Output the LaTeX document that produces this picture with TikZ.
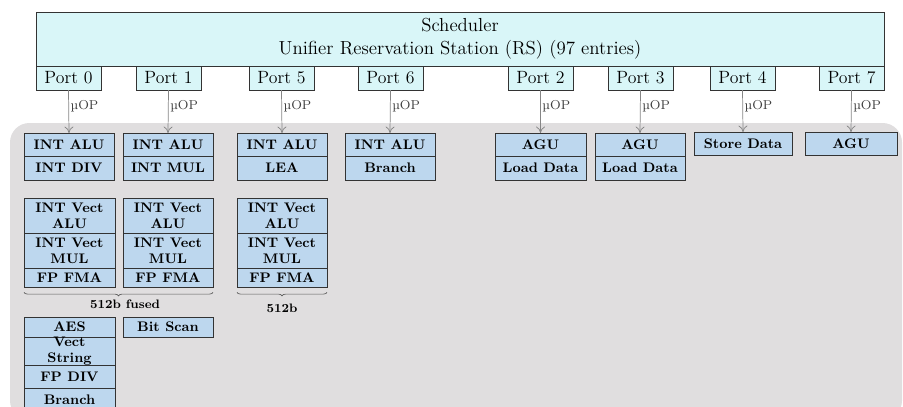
\documentclass[tikz,border=0pt]{standalone}
\usetikzlibrary{decorations.pathreplacing,arrows.meta}
\definecolor{schedfill}{HTML}{D9F6F8}
\definecolor{unitfill}{HTML}{BDD7EE}
\definecolor{bggray}{HTML}{E0DEDF}
\definecolor{edgecol}{HTML}{333333}
\definecolor{arrcol}{HTML}{858585}
\newcommand{\mybox}[7][]{\node[unitbox,#1,minimum width={(#5-#3)*0.62pt},minimum height={(#6-#4)*0.62pt}] (#2) at ({(#3+#5)/2},{(#4+#6)/2}) {#7};}
\begin{document}
\begin{tikzpicture}[x=0.62pt,y=-0.62pt,
  unitbox/.style={draw=edgecol,line width=0.55pt,fill=unitfill,inner sep=0pt,outer sep=0pt,align=center,
    font=\fontsize{8.6}{9.9}\selectfont\bfseries},
  schedbox/.style={unitbox,fill=schedfill,font=\fontsize{11}{13.2}\selectfont},
  unittext/.style={inner sep=0pt,align=center,font=\fontsize{8.6}{9.9}\selectfont\bfseries},
  uop/.style={->,>={To[length=4pt,width=5.5pt]},draw=arrcol,line width=0.45pt},
  uoplabel/.style={right,inner sep=1pt,text=black!75,font=\footnotesize},
  bracestyle/.style={draw=black!65,line width=0.4pt,decorate,decoration={brace,mirror,amplitude=2.2pt,aspect=0.5}},
  bracelabel/.style={font=\fontsize{7.6}{9}\selectfont\bfseries,inner sep=0pt}]
\useasboundingbox (0,0) rectangle (903,406);
\clip (0,0) rectangle (903,406);
% background
\fill[bggray,rounded corners=12pt] (10,123) rectangle (902,420);
% scheduler
\mybox[schedbox]{sched}{36}{12}{884}{66}{\fontsize{11.7}{13.6}\selectfont Scheduler\\[0.8pt]\fontsize{11.7}{13.6}\selectfont Unifier Reservation Station (RS) (97 entries)}
% ports
\mybox[schedbox]{p0}{36}{66}{101}{90}{Port 0}
\mybox[schedbox]{p1}{136}{66}{201}{90}{Port 1}
\mybox[schedbox]{p5}{249}{66}{314}{90}{Port 5}
\mybox[schedbox]{p6}{358}{66}{423}{90}{Port 6}
\mybox[schedbox]{p2}{508}{66}{573}{90}{Port 2}
\mybox[schedbox]{p3}{608}{66}{673}{90}{Port 3}
\mybox[schedbox]{p4}{710}{66}{775}{90}{Port 4}
\mybox[schedbox]{p7}{819}{66}{884}{90}{Port 7}
% port 0 units
\mybox{u0a}{24}{133}{114}{156}{INT ALU}
\mybox{u0b}{24}{156}{114}{180}{INT DIV}
% port 1 units
\mybox{u1a}{123}{133}{213}{156}{INT ALU}
\mybox{u1b}{123}{156}{213}{180}{INT MUL}
% port 5 units
\mybox{u5a}{237}{133}{327}{156}{INT ALU}
\mybox{u5b}{237}{156}{327}{180}{LEA}
% port 6 units
\mybox{u6a}{345}{133}{435}{156}{INT ALU}
\mybox{u6b}{345}{156}{435}{180}{Branch}
% port 2 units
\mybox{u2a}{495}{133}{586}{156}{AGU}
\mybox{u2b}{495}{156}{586}{180}{Load Data}
% port 3 units
\mybox{u3a}{595}{133}{685}{156}{AGU}
\mybox{u3b}{595}{156}{685}{180}{Load Data}
% port 4 / 7
\mybox{u4a}{694}{132}{792}{155}{Store Data}
\mybox{u7a}{805}{132}{897}{155}{AGU}
% vector units
\mybox{v0a}{24}{198}{115}{233}{INT Vect\\ALU}
\mybox{v0b}{24}{233}{115}{268}{INT Vect\\MUL}
\mybox{v0c}{24}{268}{115}{287}{FP FMA}
\mybox{v1a}{123}{198}{213}{233}{INT Vect\\ALU}
\mybox{v1b}{123}{233}{213}{268}{INT Vect\\MUL}
\mybox{v1c}{123}{268}{213}{287}{FP FMA}
\mybox{v5a}{237}{198}{327}{233}{INT Vect\\ALU}
\mybox{v5b}{237}{233}{327}{268}{INT Vect\\MUL}
\mybox{v5c}{237}{268}{327}{287}{FP FMA}
% braces
\draw[bracestyle] ([yshift=-3.3pt]v0c.south west) -- ([yshift=-3.3pt]v1c.south east);
\node[bracelabel] (lblfused) at (125,304) {512b fused};
\draw[bracestyle] ([yshift=-3.3pt]v5c.south west) -- ([yshift=-3.3pt]v5c.south east);
\node[bracelabel] (lbl512) at (282,308) {512b};
% bottom units
\mybox{w0a}{24}{317}{115}{337}{AES}
\mybox{w0b}{24}{337}{115}{365}{}
\node[unittext] (w0btext) at (w0b.center) {Vect\\String};
\mybox{w0c}{24}{365}{115}{388}{FP DIV}
\mybox{w0d}{24}{388}{115}{412}{Branch}
\mybox{w1a}{123}{317}{213}{337}{Bit Scan}
% arrows
\foreach \p/\u in {p0/u0a,p1/u1a,p5/u5a,p6/u6a,p2/u2a,p3/u3a,p4/u4a,p7/u7a}
  \draw[uop] (\p.south) -- (\u.north) node[uoplabel,pos=0.38] {\textmu OP};
\end{tikzpicture}
\end{document}
